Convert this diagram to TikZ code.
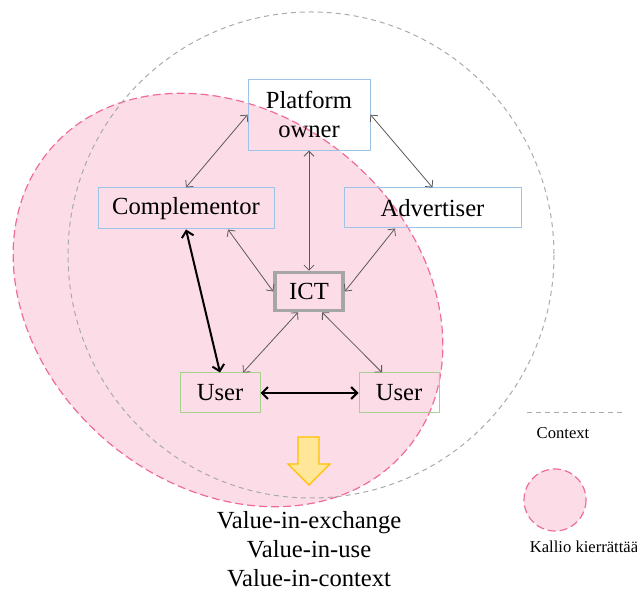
\documentclass[tikz,border=0pt]{standalone}
\usepackage{fontspec}
\setmainfont{Liberation Serif}
\usetikzlibrary{arrows.meta,positioning}
\definecolor{pinkfill}{HTML}{FCDDE7}
\definecolor{pinkline}{HTML}{F06C97}
\definecolor{ctxgray}{HTML}{AAAAAA}
\definecolor{boxblue}{HTML}{9DC3E6}
\definecolor{boxgreen}{HTML}{A9D18E}
\definecolor{ictgray}{HTML}{A6A6A6}
\definecolor{arrowfill}{HTML}{FFE699}
\definecolor{arrowline}{HTML}{FFC000}
\definecolor{linkgray}{HTML}{595959}

\begin{document}
\begin{tikzpicture}[x=0.5pt,y=-0.5pt,font=\fontsize{12.3}{14.5}\selectfont,
  actor/.style={draw=boxblue,line width=0.5pt,inner sep=0pt,align=center,minimum height=20.5pt},
  user/.style={draw=boxgreen,line width=0.5pt,inner sep=0pt,minimum width=40pt,minimum height=20pt},
  ict/.style={draw=ictgray,line width=1.8pt,inner sep=0pt,minimum width=34pt,minimum height=19pt},
  a/.style={{Straight Barb[length=2.5pt,width=5pt]}-{Straight Barb[length=2.5pt,width=5pt]},draw=linkgray,line width=0.4pt},
  aa/.style={{Straight Barb[length=3pt,width=6pt]}-{Straight Barb[length=3pt,width=6pt]},line width=1pt},
  ctx/.style={draw=ctxgray,line width=0.5pt,dash pattern=on 2.5pt off 2pt},
  kal/.style={draw=pinkline,fill=pinkfill,line width=0.6pt,dash pattern=on 4pt off 2pt},
  lgd/.style={font=\fontsize{8.3}{10}\selectfont}]
  \useasboundingbox (0,0) rectangle (637,592);
  % Regions: Kallio (pink) behind, context circle over it.
  \path[kal,rotate around={-40:(228,300)}] (228,300) ellipse [x radius=233,y radius=186];
  \draw[ctx] (311,255) circle [radius=243];
  \node[ict](ict) at (309,291.5){ICT};
  \node[actor,minimum width=61pt,minimum height=35.5pt,above=60pt of ict](po){Platform\\owner};
  \node[actor,minimum width=88pt](cm) at (186,208.5){Complementor};
  \node[actor,minimum width=88.5pt,minimum height=20pt](ad) at (432.5,208){Advertiser};
  \node[user](u1) at (220,393){User};
  \node[user,right=49pt of u1](u2){User};
  % Thin links through the platform and the ICT.
  \draw[a](po.west)--(cm.north);
  \draw[a](po.east)--(ad.north);
  \draw[a](po.south)--(ict.north);
  \draw[a]([xshift=21pt]cm.south)--(ict.west);
  \draw[a]([xshift=-18.75pt]ad.south)--(ict.east);
  \draw[a]([xshift=-5.5pt]ict.south)--([xshift=11.5pt]u1.north);
  \draw[a]([xshift=6.5pt]ict.south)--([xshift=-8.5pt]u2.north);
  % Direct exchanges.
  \draw[aa](cm.south)--(u1.north);
  \draw[aa](u1.east)--(u2.west);
  % Outcome.
  \draw[draw=arrowline,fill=arrowfill,line width=0.6pt,line join=miter]
    (298,437)--(319,437)--(319,464)--(330,464)--(309,485)--(288,464)--(298,464)--cycle;
  \node[align=center](val) at (309,549){Value-in-exchange\\Value-in-use\\Value-in-context};
  % Legend.
  \draw[ctx](527,413)--(625,413);
  \node[lgd](ctxlbl) at (563,433){Context};
  \draw[kal](555,500) circle [radius=31];
  \node[lgd](kallbl) at (584,547){Kallio kierrättää};
\end{tikzpicture}
\end{document}
